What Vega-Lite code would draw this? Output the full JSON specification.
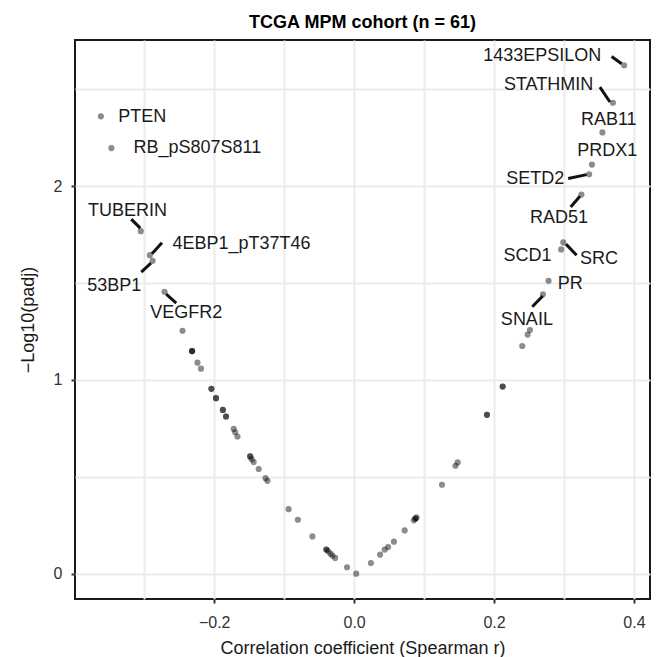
{
  "$schema": "https://vega.github.io/schema/vega-lite/v6.json",
  "width": 575,
  "height": 559,
  "autosize": {"type": "none"},
  "padding": {"left": 75, "top": 40, "right": 10, "bottom": 58},
  "background": "white",
  "title": {"text": "TCGA MPM cohort (n = 61)", "fontSize": 18, "fontWeight": "bold", "color": "#000000", "offset": 8, "anchor": "middle"},
  "datasets": {
    "genes": [
      {"gene": "PTEN", "r": -0.362, "p": 2.361, "lx": -0.303, "ly": 2.356},
      {"gene": "RB_pS807S811", "r": -0.347, "p": 2.197, "lx": -0.224, "ly": 2.196},
      {"gene": "TUBERIN", "r": -0.305, "p": 1.768, "lx": -0.324, "ly": 1.873, "sx1": -0.3186, "sy1": 1.830, "sx2": -0.3057, "sy2": 1.784},
      {"gene": "4EBP1_pT37T46", "r": -0.292, "p": 1.644, "lx": -0.161, "ly": 1.701, "sx1": -0.2747, "sy1": 1.708, "sx2": -0.289, "sy2": 1.652},
      {"gene": "53BP1", "r": -0.288, "p": 1.615, "lx": -0.343, "ly": 1.485, "sx1": -0.3043, "sy1": 1.557, "sx2": -0.2904, "sy2": 1.603},
      {"gene": "VEGFR2", "r": -0.271, "p": 1.455, "lx": -0.240, "ly": 1.347, "sx1": -0.2686, "sy1": 1.443, "sx2": -0.2543, "sy2": 1.397},
      {"gene": "1433EPSILON", "r": 0.386, "p": 2.624, "lx": 0.269, "ly": 2.672, "sx1": 0.3681, "sy1": 2.670, "sx2": 0.3824, "sy2": 2.632},
      {"gene": "STATHMIN", "r": 0.370, "p": 2.431, "lx": 0.278, "ly": 2.524, "sx1": 0.3514, "sy1": 2.512, "sx2": 0.3657, "sy2": 2.435},
      {"gene": "RAB11", "r": 0.355, "p": 2.278, "lx": 0.364, "ly": 2.340},
      {"gene": "PRDX1", "r": 0.340, "p": 2.112, "lx": 0.362, "ly": 2.180},
      {"gene": "SETD2", "r": 0.336, "p": 2.062, "lx": 0.259, "ly": 2.035, "sx1": 0.3061, "sy1": 2.040, "sx2": 0.3324, "sy2": 2.060},
      {"gene": "RAD51", "r": 0.325, "p": 1.957, "lx": 0.293, "ly": 1.837, "sx1": 0.3096, "sy1": 1.893, "sx2": 0.3229, "sy2": 1.948},
      {"gene": "SRC", "r": 0.299, "p": 1.710, "lx": 0.350, "ly": 1.622, "sx1": 0.3029, "sy1": 1.701, "sx2": 0.3181, "sy2": 1.644},
      {"gene": "SCD1", "r": 0.296, "p": 1.674, "lx": 0.248, "ly": 1.639},
      {"gene": "PR", "r": 0.278, "p": 1.512, "lx": 0.309, "ly": 1.493},
      {"gene": "SNAIL", "r": 0.270, "p": 1.442, "lx": 0.247, "ly": 1.309, "sx1": 0.2547, "sy1": 1.378, "sx2": 0.2696, "sy2": 1.433},
      {"r": -0.2453, "p": 1.254},
      {"r": -0.2316, "p": 1.149},
      {"r": -0.2316, "p": 1.149},
      {"r": -0.2316, "p": 1.149},
      {"r": -0.2239, "p": 1.089},
      {"r": -0.2189, "p": 1.058},
      {"r": -0.204, "p": 0.954},
      {"r": -0.204, "p": 0.954},
      {"r": -0.1974, "p": 0.906},
      {"r": -0.1974, "p": 0.906},
      {"r": -0.1876, "p": 0.845},
      {"r": -0.1876, "p": 0.845},
      {"r": -0.1831, "p": 0.811},
      {"r": -0.1831, "p": 0.811},
      {"r": -0.1721, "p": 0.747},
      {"r": -0.170, "p": 0.730},
      {"r": -0.1667, "p": 0.708},
      {"r": -0.1486, "p": 0.605},
      {"r": -0.1486, "p": 0.605},
      {"r": -0.1464, "p": 0.591},
      {"r": -0.1436, "p": 0.576},
      {"r": -0.1364, "p": 0.540},
      {"r": -0.1266, "p": 0.493},
      {"r": -0.1239, "p": 0.479},
      {"r": -0.0936, "p": 0.333},
      {"r": -0.0804, "p": 0.278},
      {"r": -0.0596, "p": 0.192},
      {"r": -0.0397, "p": 0.124},
      {"r": -0.0397, "p": 0.124},
      {"r": -0.0371, "p": 0.115},
      {"r": -0.0337, "p": 0.103},
      {"r": -0.031, "p": 0.093},
      {"r": -0.0271, "p": 0.081},
      {"r": -0.0101, "p": 0.033},
      {"r": 0.003, "p": 0.0},
      {"r": 0.024, "p": 0.055},
      {"r": 0.0371, "p": 0.098},
      {"r": 0.0437, "p": 0.124},
      {"r": 0.0486, "p": 0.137},
      {"r": 0.0569, "p": 0.165},
      {"r": 0.0723, "p": 0.223},
      {"r": 0.0854, "p": 0.275},
      {"r": 0.0877, "p": 0.284},
      {"r": 0.0877, "p": 0.284},
      {"r": 0.0893, "p": 0.290},
      {"r": 0.1256, "p": 0.459},
      {"r": 0.1449, "p": 0.557},
      {"r": 0.1481, "p": 0.574},
      {"r": 0.1899, "p": 0.820},
      {"r": 0.1899, "p": 0.820},
      {"r": 0.2124, "p": 0.966},
      {"r": 0.2124, "p": 0.966},
      {"r": 0.2404, "p": 1.175},
      {"r": 0.2481, "p": 1.234},
      {"r": 0.2514, "p": 1.258}
    ]
  },
  "data": {"name": "genes"},
  "encoding": {
    "x": {
      "field": "r", "type": "quantitative",
      "scale": {"domain": [-0.399, 0.423], "nice": false, "zero": false},
      "axis": {
        "title": "Correlation coefficient (Spearman r)",
        "values": [-0.3, -0.2, -0.1, 0, 0.1, 0.2, 0.3, 0.4],
        "format": ".1f",
        "labelExpr": "indexof([-0.3, -0.1, 0.1, 0.3], datum.value) >= 0 ? '' : datum.label",
        "tickOpacity": {"condition": {"test": "indexof([-0.3, -0.1, 0.1, 0.3], datum.value) >= 0", "value": 0}, "value": 1},
        "labelPadding": 11,
        "titlePadding": 9
      }
    },
    "y": {
      "field": "p", "type": "quantitative",
      "scale": {"domain": [-0.131, 2.755], "nice": false, "zero": false},
      "axis": {
        "title": "−Log10(padj)",
        "values": [0, 0.5, 1, 1.5, 2, 2.5],
        "format": ".0f",
        "labelExpr": "indexof([0.5, 1.5, 2.5], datum.value) >= 0 ? '' : datum.label",
        "tickOpacity": {"condition": {"test": "indexof([0.5, 1.5, 2.5], datum.value) >= 0", "value": 0}, "value": 1},
        "labelPadding": 9,
        "titlePadding": 16
      }
    }
  },
  "layer": [
    {
      "transform": [{"filter": "isValid(datum.sx1)"}],
      "mark": {"type": "rule", "color": "#111111", "strokeWidth": 3},
      "encoding": {
        "x": {"field": "sx1", "type": "quantitative"},
        "y": {"field": "sy1", "type": "quantitative"},
        "x2": {"field": "sx2"},
        "y2": {"field": "sy2"}
      }
    },
    {
      "mark": {"type": "circle", "color": "#000000", "opacity": 0.45, "size": 38}
    },
    {
      "transform": [{"filter": "isValid(datum.gene)"}],
      "mark": {"type": "text", "fontSize": 18, "color": "#1a1a1a", "align": "center", "baseline": "middle"},
      "encoding": {
        "x": {"field": "lx", "type": "quantitative"},
        "y": {"field": "ly", "type": "quantitative"},
        "text": {"field": "gene"}
      }
    }
  ],
  "config": {
    "font": "Liberation Sans",
    "view": {"stroke": "#1a1a1a", "strokeWidth": 2},
    "axis": {
      "domain": false,
      "grid": true,
      "gridColor": "#ebebeb",
      "gridWidth": 2,
      "tickColor": "#333333",
      "tickWidth": 2,
      "tickSize": 4,
      "labelFontSize": 16,
      "labelColor": "#333333",
      "labelFlush": false,
      "labelOverlap": false,
      "titleFontSize": 18,
      "titleFontWeight": "normal",
      "titleColor": "#1a1a1a"
    }
  }
}
